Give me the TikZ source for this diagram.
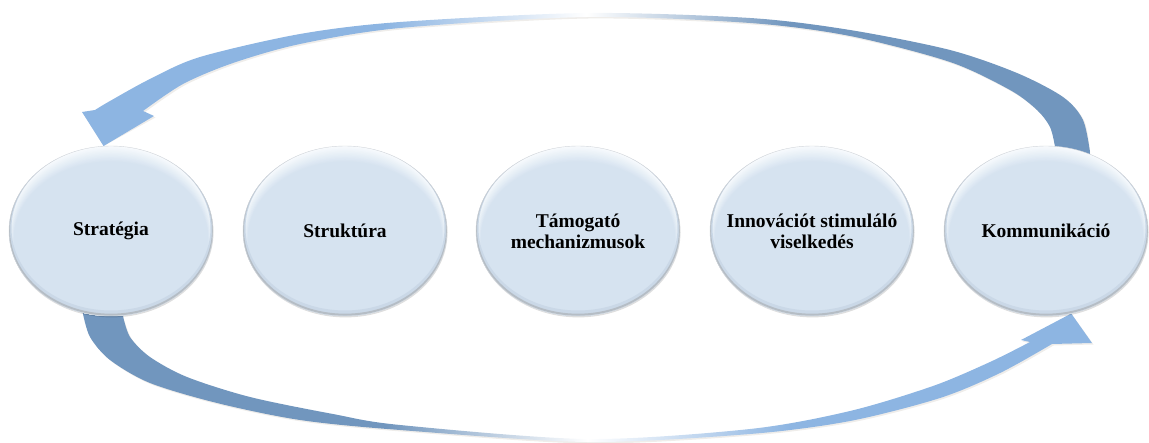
\documentclass[tikz,border=0pt]{standalone}
\usepackage{fontspec}
\setmainfont{Liberation Serif}
\usetikzlibrary{shapes.geometric,backgrounds,shadows}

\definecolor{bubbleblue}{HTML}{D6E3F0}
\definecolor{bubblerim}{HTML}{F7FAFD}
\definecolor{bubbleshade}{HTML}{CAD8E7}
\definecolor{bubbleedge}{HTML}{A3ACB6}
\definecolor{ringdark}{HTML}{7196BE}
\definecolor{ringlight}{HTML}{8DB5E2}
\colorlet{ringdarkfade}{ringdark!40!white}
\colorlet{ringlightfade}{ringlight!40!white}

% curved arrows: coloured ends, a white highlight in the middle
\pgfdeclarehorizontalshading{ringtop}{100bp}{color(0bp)=(ringlight); color(40bp)=(ringlight); color(46bp)=(ringlightfade); color(50bp)=(white); color(54bp)=(ringdarkfade); color(60bp)=(ringdark); color(100bp)=(ringdark)}
\pgfdeclarehorizontalshading{ringbottom}{100bp}{color(0bp)=(ringdark); color(40bp)=(ringdark); color(46bp)=(ringdarkfade); color(50bp)=(white); color(54bp)=(ringlightfade); color(60bp)=(ringlight); color(100bp)=(ringlight)}

\begin{document}
\begin{tikzpicture}[x=1pt,y=-1pt,
  bubble/.style={ellipse, minimum width=204pt, minimum height=170pt, inner sep=0pt,
    draw=bubbleedge!50, line width=0.4pt,
    drop shadow={shadow xshift=0.5pt, shadow yshift=-1.4pt, fill=black, opacity=0.13},
    path picture={
      \fill[bubblerim] (path picture bounding box.south west) rectangle (path picture bounding box.north east);
      \foreach \k in {1,...,12}{
        \pgfmathsetmacro\mixk{min(100,\k*9)}
        \fill[bubbleblue!\mixk!bubblerim] ([yshift={-0.7pt*\k}]path picture bounding box.center)
          ellipse [x radius={102pt-0.45pt*\k}, y radius={85pt-0.7pt*\k}];
      }
      \draw[bubbleshade, line width=5pt] ([yshift=3pt]path picture bounding box.center)
        ellipse [x radius=102pt, y radius=85pt];
      \draw[bubbleedge!80, line width=2pt] ([yshift=1.3pt]path picture bounding box.center)
        ellipse [x radius=102pt, y radius=85pt];
    }},
  caption/.style={font=\bfseries\fontsize{19.5}{21}\selectfont, align=center, text=black}]

\useasboundingbox (0,0) rectangle (1149,443);

% the five stages
\node[bubble, label={[caption]center:Stratégia}] (a) at (111,231) {};
\node[bubble, label={[caption]center:Struktúra}] (b) at (345,231) {};
\node[bubble, label={[caption]center:{Támogató\\mechanizmusok}}] (c) at (578,231) {};
\node[bubble, label={[caption]center:{Innovációt stimuláló\\viselkedés}}] (d) at (812,231) {};
\node[bubble, label={[caption]center:Kommunikáció}] (e) at (1046,231) {};

% upper arrow: from Kommunikáció back to Stratégia
\def\toparrow{(e.84) -- plot[smooth] coordinates {(e.84) (1050,127) (1037,110) (1010,90) (950,62) (850,36) (750,23) (587,17) (400,28) (300,44) (233,63) (183,84) (143,111)}
  -- (154,116) -- (a.95) -- (82,112) -- (95,110)
  -- plot[smooth] coordinates {(95,110) (110,101) (150,79) (200,57) (300,34) (400,22) (587,13) (750,18) (850,30) (950,50) (1017,73) (1063,97) (1083,120) (e.60)}
  -- (e.center) -- cycle}

% lower arrow: from Stratégia on to Kommunikáció
\def\bottomarrow{(a.251) -- plot[smooth] coordinates {(a.251) (90,337) (110,360) (150,383) (217,403) (300,420) (400,430) (587,442) (750,434) (850,421) (940,398) (1000,373) (1052,344)}
  -- (1092,343) -- (e.287) -- (1021,340) -- (1030,342)
  -- plot[smooth] coordinates {(1030,342) (990,362) (933,386) (850,411) (750,429) (587,439) (400,425) (333,414) (250,397) (187,377) (150,357) (130,337) (a.278)}
  -- (a.center) -- cycle}

\begin{scope}[on background layer]
  \fill[black!60!brown, opacity=0.09, shift={(1.5,1.5)}] \toparrow;
  \shade[shading=ringtop] \toparrow;
  \fill[black!60!brown, opacity=0.09, shift={(1.5,1.5)}] \bottomarrow;
  \shade[shading=ringbottom] \bottomarrow;
\end{scope}
\end{tikzpicture}
\end{document}
